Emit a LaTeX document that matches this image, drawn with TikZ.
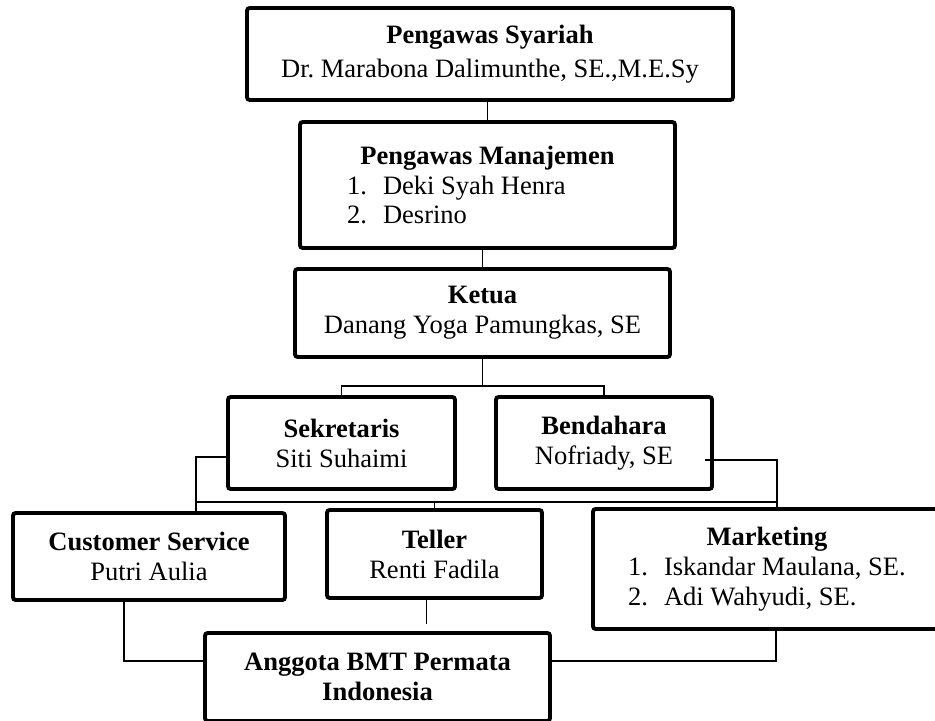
\documentclass[tikz,border=0pt]{standalone}
\usepackage{fontspec}
\setmainfont{Liberation Serif}
\usetikzlibrary{calc}

\newcommand{\namerow}[4]{\makebox[#1][l]{\hspace{#2}\makebox[0.72cm][l]{#3}#4}}

\tikzset{
  office/.style={draw, line width=2.2pt, rounded corners=1.5pt, align=center,
    font=\fontsize{15.1}{17}\selectfont, inner sep=0pt},
  wire/.style={line width=0.75pt},
}

\begin{document}
\begin{tikzpicture}[x=0.02cm, y=-0.02cm]

  \useasboundingbox (0,0) rectangle (935,720);

  % Define nodes

  % supervisors
  \node[office, minimum width=9.72cm, minimum height=1.84cm] (syariah) at (490,54)
    {\textbf{Pengawas Syariah}\\[2pt]Dr.\ Marabona Dalimunthe, SE.,M.E.Sy}; %
  \node[office, minimum width=7.5cm, minimum height=2.52cm] (manajemen) at (487.5,185)
    {\textbf{Pengawas Manajemen}\\
     \namerow{7.5cm}{0.94cm}{1.}{Deki Syah Henra}\\
     \namerow{7.5cm}{0.94cm}{2.}{Desrino}}; %

  % head
  \node[office, minimum width=7.5cm, minimum height=1.76cm] (ketua) at (482.5,313)
    {\textbf{Ketua}\\Danang Yoga Pamungkas, SE}; %

  % secretary and treasurer
  \node[office, minimum width=4.54cm, minimum height=1.84cm] (sekretaris) at (341.5,443)
    {\textbf{Sekretaris}\\Siti Suhaimi}; %
  \node[office, minimum width=4.32cm, minimum height=1.84cm] (bendahara) at (604,443)
    {\textbf{Bendahara}\\Nofriady, SE}; %

  % staff
  \node[office, minimum width=5.44cm, minimum height=1.74cm] (cs) at (149,556.5)
    {\textbf{Customer Service}\\Putri Aulia}; %
  \node[office, minimum width=4.3cm, minimum height=1.76cm] (teller) at (434.5,554)
    {\textbf{Teller}\\Renti Fadila}; %
  \node[office, minimum width=6.96cm, minimum height=2.4cm] (marketing) at (767,569)
    {\textbf{Marketing}\\
     \namerow{6.96cm}{0.7cm}{1.}{Iskandar Maulana, SE.}\\
     \namerow{6.96cm}{0.7cm}{2.}{Adi Wahyudi, SE.}}; %

  % members
  \node[office, minimum width=6.9cm, minimum height=1.76cm] (anggota) at (377.5,677)
    {\textbf{Anggota BMT Permata}\\\textbf{Indonesia}}; %

  % Connect the boxes
  \draw[wire] (syariah.south -| manajemen.north) -- (manajemen.north); %
  \draw[wire] (manajemen.south -| ketua.north) -- (ketua.north); %
  \draw[wire] (ketua.south) -- ++(0,27) coordinate (kbus); %
  \draw[wire] (sekretaris.north) |- (kbus) -| (bendahara.north); %

  % staff bus
  \coordinate (busL) at (196,502); %
  \coordinate (busR) at (777,502); %
  \draw[wire] ($(sekretaris.west)+(0,14)$) -| (busL) -- (busL |- cs.north); %
  \draw[wire] ($(bendahara.east)+(-9,17)$) -| (busR) -- (busR |- marketing.north); %
  \draw[wire] (busL) -- (busR); %
  \draw[wire] (teller.north) -- (teller.north |- busL); %

  % down to the members
  \coordinate (tdrop) at ($(teller.south)+(-8,0)$); %
  \draw[wire] ($(cs.south)+(-25,0)$) |- ($(anggota.west)+(0,-16)$); %
  \draw[wire, shorten >=0.14cm] (tdrop) -- (tdrop |- anggota.north); %
  \draw[wire] ($(marketing.south)+(9,0)$) |- ($(anggota.east)+(0,-16)$); %

\end{tikzpicture}
\end{document}
